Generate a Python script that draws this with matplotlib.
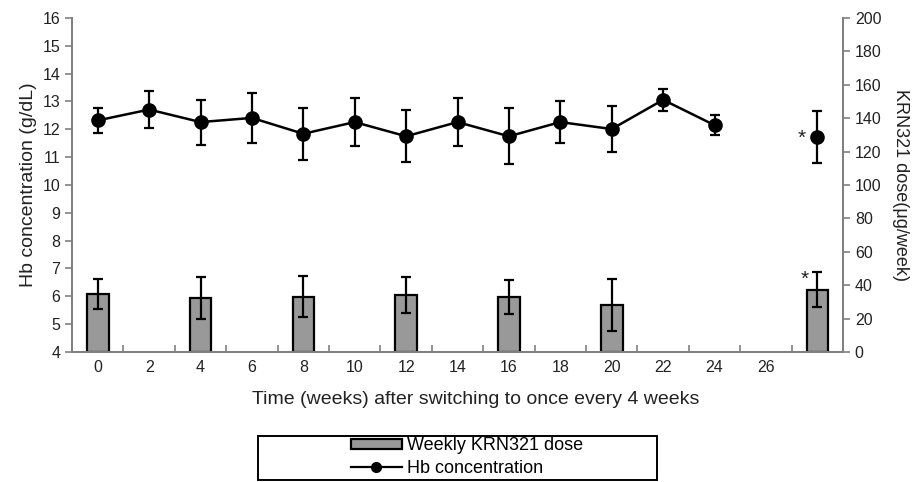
import numpy as np
import matplotlib
matplotlib.use("Agg")
import matplotlib.pyplot as plt
from matplotlib.patches import Rectangle
from matplotlib.lines import Line2D

# Hb concentration, g/dL (mean and SD) at weeks 0..24, plus the final visit
hb_weeks = [0, 2, 4, 6, 8, 10, 12, 14, 16, 18, 20, 22, 24]
hb_mean = [12.32, 12.71, 12.26, 12.41, 11.84, 12.26, 11.75, 12.26, 11.75, 12.26, 12.01, 13.06, 12.15]
hb_sd = [0.45, 0.65, 0.81, 0.90, 0.93, 0.86, 0.93, 0.85, 1.00, 0.75, 0.81, 0.40, 0.37]
hb_final_mean = 11.73
hb_final_sd = 0.93

# weekly KRN321 dose, ug/week (mean and SD)
dose_weeks = [0, 4, 8, 12, 16, 20]
dose_mean = [34.7, 32.3, 33.2, 34.2, 33.1, 28.1]
dose_sd = [9.0, 12.8, 12.5, 11.0, 10.2, 15.6]
dose_final_mean = 37.3
dose_final_sd = 10.4

week_labels = ["0", "2", "4", "6", "8", "10", "12", "14", "16", "18", "20", "22", "24", "26", ""]

plt.rcParams.update({
    "font.family": ["Liberation Sans", "DejaVu Sans"],
    "font.size": 11.5,
    "figure.dpi": 100,
})

axis_gray = "#808080"
text_col = "#222222"

fig = plt.figure(figsize=(9.2, 4.82))
ax = fig.add_axes([0.0783, 0.2697, 0.8380, 0.6930])
ax2 = ax.twinx()
ax.set_zorder(ax2.get_zorder() + 1)
ax.patch.set_visible(False)

# categories: one slot per 2 weeks, plus a last slot for the final visit
cat = lambda w: w / 2
final_x = len(week_labels) - 1

# dose bars on the right axis
bx = [cat(w) for w in dose_weeks] + [final_x]
by = dose_mean + [dose_final_mean]
be = dose_sd + [dose_final_sd]
bars = ax2.bar(bx, by, width=0.42, color="#999999", edgecolor="black", linewidth=1.6, zorder=2)
ax2.errorbar(bx, by, yerr=be, fmt="none", ecolor="black", elinewidth=1.6,
             capsize=3.5, capthick=1.6, zorder=3)
ax2.text(final_x - 0.24, dose_final_mean + dose_final_sd - 4, "*", ha="center", va="center",
         fontsize=15, color=text_col)

# Hb line on the left axis
hx = [cat(w) for w in hb_weeks]
ax.errorbar(hx, hb_mean, yerr=hb_sd, fmt="-o", color="black", lw=1.8, ms=9.5,
            elinewidth=1.6, capsize=3.5, capthick=1.6)
ax.errorbar([final_x], [hb_final_mean], yerr=[hb_final_sd], fmt="o", color="black", ms=9.5,
            elinewidth=1.6, capsize=3.5, capthick=1.6)
ax.text(final_x - 0.3, hb_final_mean - 0.05, "*", ha="center", va="center",
        fontsize=15, color=text_col)

ax.set_xlim(-0.5, final_x + 0.5)
ax.set_ylim(4, 16)
ax2.set_ylim(0, 200)
ax.set_yticks(np.arange(4, 17, 1))
ax2.set_yticks(np.arange(0, 201, 20))
ax.set_xticks(range(len(week_labels)))
ax.set_xticklabels(week_labels)
ax.set_xticks(np.arange(0.5, final_x, 1), minor=True)
ax.tick_params(axis="x", which="major", length=0, pad=6, labelsize=11.5, labelcolor=text_col)
ax.tick_params(axis="x", which="minor", direction="in", length=5, color=axis_gray, width=1.2)
ax.tick_params(axis="y", direction="out", length=5, color=axis_gray, width=1.2,
               labelsize=11.5, labelcolor=text_col)
ax2.tick_params(axis="y", direction="out", length=5, color=axis_gray, width=1.2,
                labelsize=11.5, labelcolor=text_col)

for a in (ax, ax2):
    a.spines["top"].set_visible(False)
    for s in ("left", "right", "bottom"):
        a.spines[s].set_color(axis_gray)
        a.spines[s].set_linewidth(1.4)

ax.set_xlabel("Time (weeks) after switching to once every 4 weeks", fontsize=14,
              color=text_col)
ax.xaxis.set_label_coords(0.524, -0.118)
ax.set_ylabel("Hb concentration (g/dL)", fontsize=14, color=text_col, labelpad=4)
ax2.set_ylabel("KRN321 dose(\u03bcg/week)", fontsize=13, color=text_col, rotation=270,
               labelpad=20)

# legend with a wide framed box underneath
fig.patches.append(Rectangle((258 / 920, 1 - 480 / 482), 399 / 920, 44 / 482,
                             transform=fig.transFigure, fill=False, edgecolor="black",
                             linewidth=1.4))
hb_handle = Line2D([], [], color="black", lw=1.6, marker="o", ms=7)
fig.legend([bars, hb_handle], ["Weekly KRN321 dose", "Hb concentration"], loc="center",
           bbox_to_anchor=(467 / 920, 1 - 457 / 482), frameon=False, fontsize=13,
           handlelength=2.8, handleheight=0.5, handletextpad=0.3, labelspacing=0.3,
           borderpad=0)

fig.savefig("out.png", dpi=100)
